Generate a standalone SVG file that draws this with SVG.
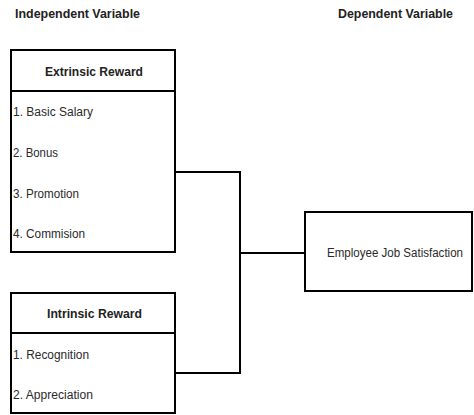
<svg xmlns="http://www.w3.org/2000/svg" width="474" height="415" viewBox="0 0 474 415">
  <style>
    .box { fill: #ffffff; stroke: #000000; stroke-width: 2; }
    .sep { stroke: #000000; stroke-width: 2; }
    .wire { fill: none; stroke: #000000; stroke-width: 2; }
    .head { font-family: "Liberation Sans", Arial, sans-serif; font-weight: bold; font-size: 13px; fill: #222222; }
    .title { font-family: "Liberation Sans", Arial, sans-serif; font-weight: bold; font-size: 13px; fill: #222222; }
    .item { font-family: "Liberation Sans", Arial, sans-serif; font-size: 12.5px; fill: #2a2a2a; }
  </style>
  <rect x="0" y="0" width="474" height="415" fill="#ffffff"/>

  <!-- column headings -->
  <text class="head" x="15" y="18" textLength="125" lengthAdjust="spacingAndGlyphs">Independent Variable</text>
  <text class="head" x="338" y="18" textLength="115" lengthAdjust="spacingAndGlyphs">Dependent Variable</text>

  <!-- connectors -->
  <g id="connectors">
    <polyline class="wire" points="175,172 240,172 240,373 175,373"/>
    <line class="wire" x1="240" y1="253" x2="305" y2="253"/>
  </g>

  <!-- extrinsic reward -->
  <g id="extrinsic-reward">
    <rect class="box" x="11" y="50" width="164" height="202"/>
    <line class="sep" x1="11" y1="91" x2="175" y2="91"/>
    <text class="title" x="45" y="76" textLength="98" lengthAdjust="spacingAndGlyphs">Extrinsic Reward</text>
    <text class="item" x="13" y="116" textLength="80" lengthAdjust="spacingAndGlyphs">1. Basic Salary</text>
    <text class="item" x="13" y="157" textLength="45" lengthAdjust="spacingAndGlyphs">2. Bonus</text>
    <text class="item" x="13" y="198" textLength="66" lengthAdjust="spacingAndGlyphs">3. Promotion</text>
    <text class="item" x="13" y="238" textLength="72" lengthAdjust="spacingAndGlyphs">4. Commision</text>
  </g>

  <!-- intrinsic reward -->
  <g id="intrinsic-reward">
    <rect class="box" x="11" y="293" width="164" height="120"/>
    <line class="sep" x1="11" y1="333" x2="175" y2="333"/>
    <text class="title" x="47" y="318" textLength="95" lengthAdjust="spacingAndGlyphs">Intrinsic Reward</text>
    <text class="item" x="13" y="359" textLength="76" lengthAdjust="spacingAndGlyphs">1. Recognition</text>
    <text class="item" x="13" y="399" textLength="80" lengthAdjust="spacingAndGlyphs">2. Appreciation</text>
  </g>

  <!-- employee job satisfaction -->
  <g id="job-satisfaction">
    <rect class="box" x="305" y="212" width="167" height="79"/>
    <text class="item" x="327" y="257" textLength="136" lengthAdjust="spacingAndGlyphs">Employee Job Satisfaction</text>
  </g>
</svg>
